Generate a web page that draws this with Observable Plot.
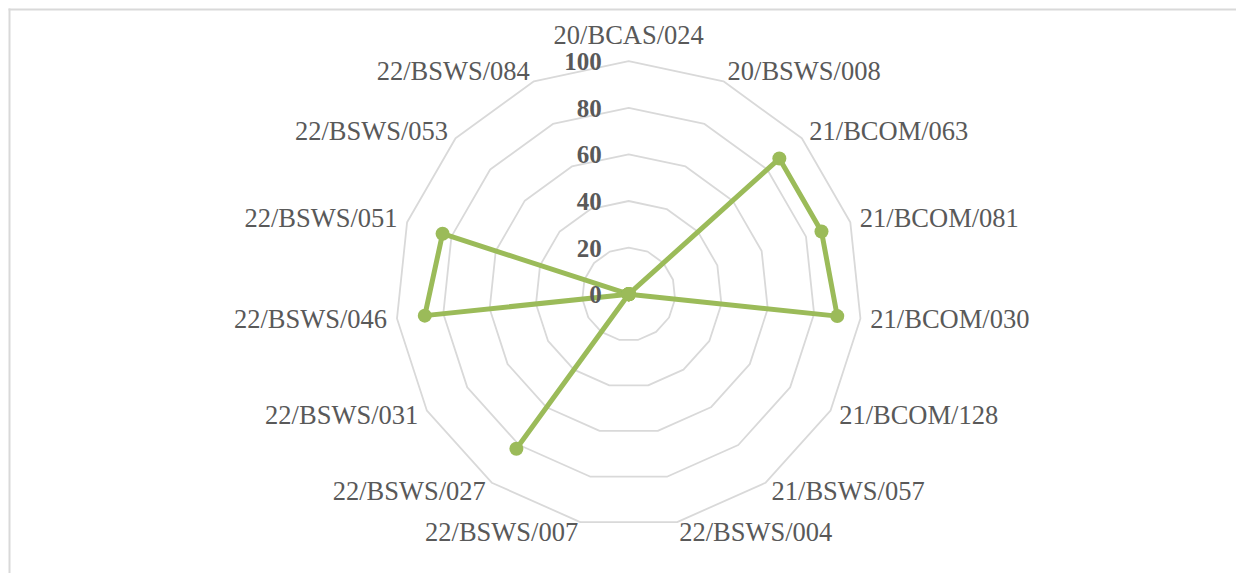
<!DOCTYPE html>
<html>
<head>
<meta charset="utf-8">
<script src="https://cdn.jsdelivr.net/npm/d3@7"></script>
<script src="https://cdn.jsdelivr.net/npm/@observablehq/plot@0.6"></script>
<style>
  html, body { margin: 0; padding: 0; background: #fff; }
  #chart svg { display: block; }
</style>
</head>
<body>
<div id="chart"></div>
<script>
// ---- data ----
const categories = [
  "20/BCAS/024", "20/BSWS/008", "21/BCOM/063", "21/BCOM/081", "21/BCOM/030",
  "21/BCOM/128", "21/BSWS/057", "22/BSWS/004", "22/BSWS/007", "22/BSWS/027",
  "22/BSWS/031", "22/BSWS/046", "22/BSWS/051", "22/BSWS/053", "22/BSWS/084"
];
const values = [0, 0, 87, 87, 90, 0, 0, 0, 0, 82, 0, 88, 84, 0, 0];
const tickValues = [0, 20, 40, 60, 80, 100];
const ringLevels = [20, 40, 60, 80, 100];

// ---- geometry helpers ----
const W = 1236, H = 573;
const cx = 628.2, cy = 293.7;      // centre in pixels
const k = 2.33;                    // pixels per value unit
const n = categories.length;
const ang = i => 2 * Math.PI * i / n;
const pt = (r, i) => ({x: r * Math.sin(ang(i)), y: r * Math.cos(ang(i))});

// grid rings (closed polygons)
const rings = ringLevels.flatMap(level =>
  d3.range(n + 1).map(i => ({level, ...pt(level, i % n)})));

// series
const series = d3.range(n + 1).map(i => ({cat: categories[i % n], ...pt(values[i % n], i % n)}));
const dots = categories.map((c, i) => ({cat: c, ...pt(values[i], i)}));

// category labels (positions derived from outer ring)
const outer = tickValues[tickValues.length - 1];
const labels = categories.map((c, i) => {
  const s = Math.sin(ang(i)), co = Math.cos(ang(i));
  const p = pt(outer, i);
  let x = p.x + 10 * s / k;
  let y;
  if (Math.abs(s) < 0.01) y = p.y + 17 / k;            // top label above
  else y = p.y - (8.5 - 10.5 * co) / k;                 // baseline
  return {label: c, x, y, s};
});

// tick labels
const ticks = tickValues.map(v => ({v, x: -27 / k, y: v - 1 / k}));

const grey = "#d9d9d9";
const green = "#9bbb59";
const txt = "#595959";
const font = "'Liberation Serif', 'Times New Roman', serif";

const chart = Plot.plot({
  width: W,
  height: H,
  margin: 0,
  x: {domain: [-cx / k, (W - cx) / k], axis: null},
  y: {domain: [-(H - cy) / k, cy / k], axis: null},
  style: {fontFamily: font, background: "#fff", overflow: "visible"},
  marks: [
    Plot.frame({anchor: "top", insetTop: 9, insetLeft: 9, stroke: grey, strokeWidth: 2}),
    Plot.frame({anchor: "left", insetTop: 9, insetLeft: 9, stroke: grey, strokeWidth: 2}),
    Plot.line(rings, {x: "x", y: "y", z: "level", stroke: grey, strokeWidth: 1.8, curve: "linear"}),
    Plot.line(series, {x: "x", y: "y", stroke: green, strokeWidth: 5, strokeLinejoin: "round"}),
    Plot.dot(dots, {x: "x", y: "y", r: 7, fill: green, stroke: "none"}),
    Plot.text(ticks, {x: "x", y: "y", text: d => String(d.v), textAnchor: "end", lineAnchor: "middle",
      fontSize: 25, fontWeight: "bold", fill: txt}),
    Plot.text(labels.filter(d => d.s > 0.01), {x: "x", y: "y", text: "label", textAnchor: "start",
      lineAnchor: "bottom", fontSize: 26.5, fill: txt}),
    Plot.text(labels.filter(d => d.s < -0.01), {x: "x", y: "y", text: "label", textAnchor: "end",
      lineAnchor: "bottom", fontSize: 26.5, fill: txt}),
    Plot.text(labels.filter(d => Math.abs(d.s) <= 0.01), {x: "x", y: "y", text: "label", textAnchor: "middle",
      lineAnchor: "bottom", fontSize: 26.5, fill: txt})
  ]
});
document.getElementById("chart").append(chart);
</script>
</body>
</html>
